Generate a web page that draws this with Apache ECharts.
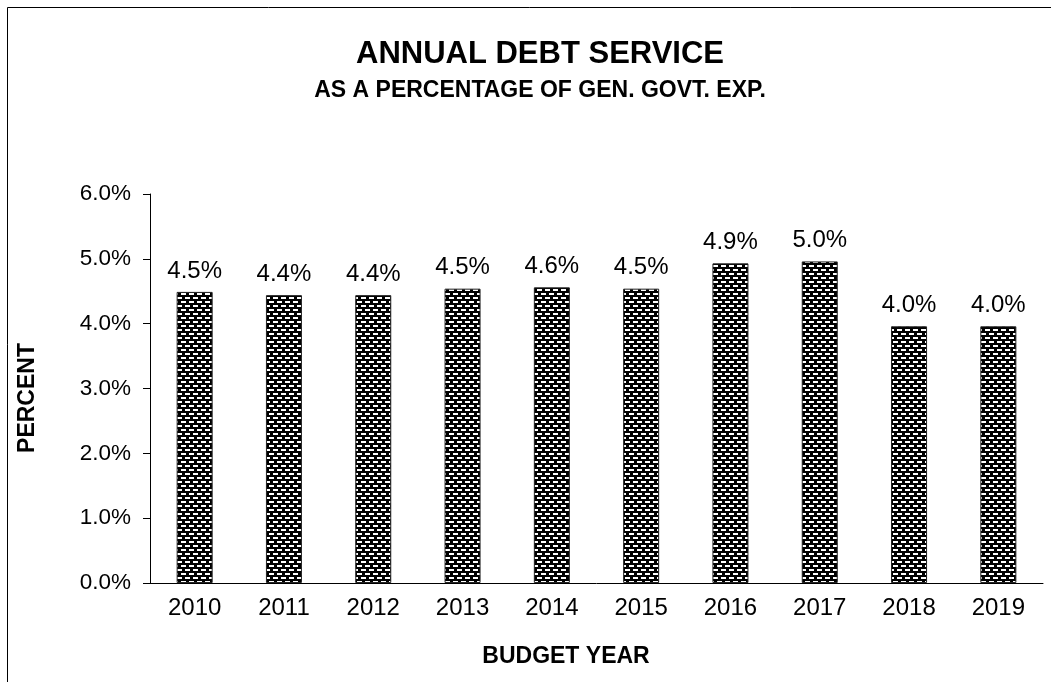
<!DOCTYPE html>
<html>
<head>
<meta charset="utf-8">
<title>Annual Debt Service</title>
<script src="https://cdn.jsdelivr.net/npm/echarts@6/dist/echarts.min.js"></script>
<style>
  html, body { margin: 0; padding: 0; background: #fff; }
  #chart { width: 1051px; height: 682px; }
</style>
</head>
<body>
<div id="chart"></div>
<script>
// Budget years and debt service as a percentage of general government expenditure
const years = ['2010', '2011', '2012', '2013', '2014', '2015', '2016', '2017', '2018', '2019'];
const debtServicePct = [4.49, 4.44, 4.44, 4.54, 4.56, 4.54, 4.93, 4.96, 3.96, 3.96];
const yTicks = [0, 1, 2, 3, 4, 5, 6];

// Brick-like fill: black ground with staggered white dashes
function brickPattern() {
  const c = document.createElement('canvas');
  c.width = 8; c.height = 8;
  const g = c.getContext('2d');
  g.fillStyle = '#000';
  g.fillRect(0, 0, 8, 8);
  g.fillStyle = '#fff';
  g.fillRect(1, 1, 5, 2);
  g.fillRect(5, 5, 3, 2);
  g.fillRect(0, 5, 2, 2);
  return c;
}

const FONT = 'Liberation Sans, Arial, sans-serif';
const chart = echarts.init(document.getElementById('chart'), null, { renderer: 'canvas' });

chart.setOption({
  animation: false,
  backgroundColor: '#fff',
  title: [
    {
      text: 'ANNUAL DEBT SERVICE',
      left: 535, top: 34, textAlign: 'center',
      textStyle: { fontFamily: FONT, fontSize: 31, fontWeight: 'bold', color: '#000' }
    },
    {
      text: 'AS A PERCENTAGE OF GEN. GOVT. EXP.',
      left: 535, top: 74, textAlign: 'center',
      textStyle: { fontFamily: FONT, fontSize: 23, fontWeight: 'bold', color: '#000' }
    }
  ],
  grid: { left: 150, right: 8, top: 194, bottom: 99, containLabel: false },
  xAxis: {
    type: 'category',
    data: years,
    axisLine: { lineStyle: { color: '#000', width: 1 } },
    axisTick: { inside: true, length: 6, lineStyle: { color: '#000' } },
    axisLabel: { fontFamily: FONT, fontSize: 24, color: '#000', margin: 13 },
    splitLine: { show: false }
  },
  yAxis: {
    type: 'value',
    min: yTicks[0],
    max: yTicks[yTicks.length - 1],
    interval: 1,
    axisLine: { show: true, lineStyle: { color: '#000', width: 1 } },
    axisTick: { show: true, length: 7, lineStyle: { color: '#000' } },
    axisLabel: {
      fontFamily: FONT, fontSize: 22.5, color: '#000', margin: 19,
      formatter: v => v.toFixed(1) + '%'
    },
    splitLine: { show: false }
  },
  graphic: [
    {
      type: 'polyline',
      shape: { points: [[7.5, 682], [7.5, 7.5], [1051, 7.5]] },
      style: { stroke: '#000', lineWidth: 1, fill: null },
      silent: true
    },
    {
      // y-axis title
      type: 'text',
      x: 28, y: 398,
      rotation: Math.PI / 2,
      style: {
        text: 'PERCENT', align: 'center', verticalAlign: 'middle',
        fontFamily: FONT, fontSize: 23, fontWeight: 'bold', fill: '#000'
      }
    },
    {
      // x-axis title
      type: 'text',
      x: 566, y: 657,
      style: {
        text: 'BUDGET YEAR', align: 'center', verticalAlign: 'middle',
        fontFamily: FONT, fontSize: 23, fontWeight: 'bold', fill: '#000'
      }
    }
  ],
  series: [{
    type: 'bar',
    data: debtServicePct,
    barWidth: 36,
    itemStyle: {
      color: { image: brickPattern(), repeat: 'repeat' },
      borderColor: '#222',
      borderWidth: 1
    },
    label: {
      show: true,
      position: 'top',
      distance: 9,
      fontFamily: FONT, fontSize: 24, color: '#000',
      formatter: p => p.value.toFixed(1) + '%'
    }
  }]
});
</script>
</body>
</html>
